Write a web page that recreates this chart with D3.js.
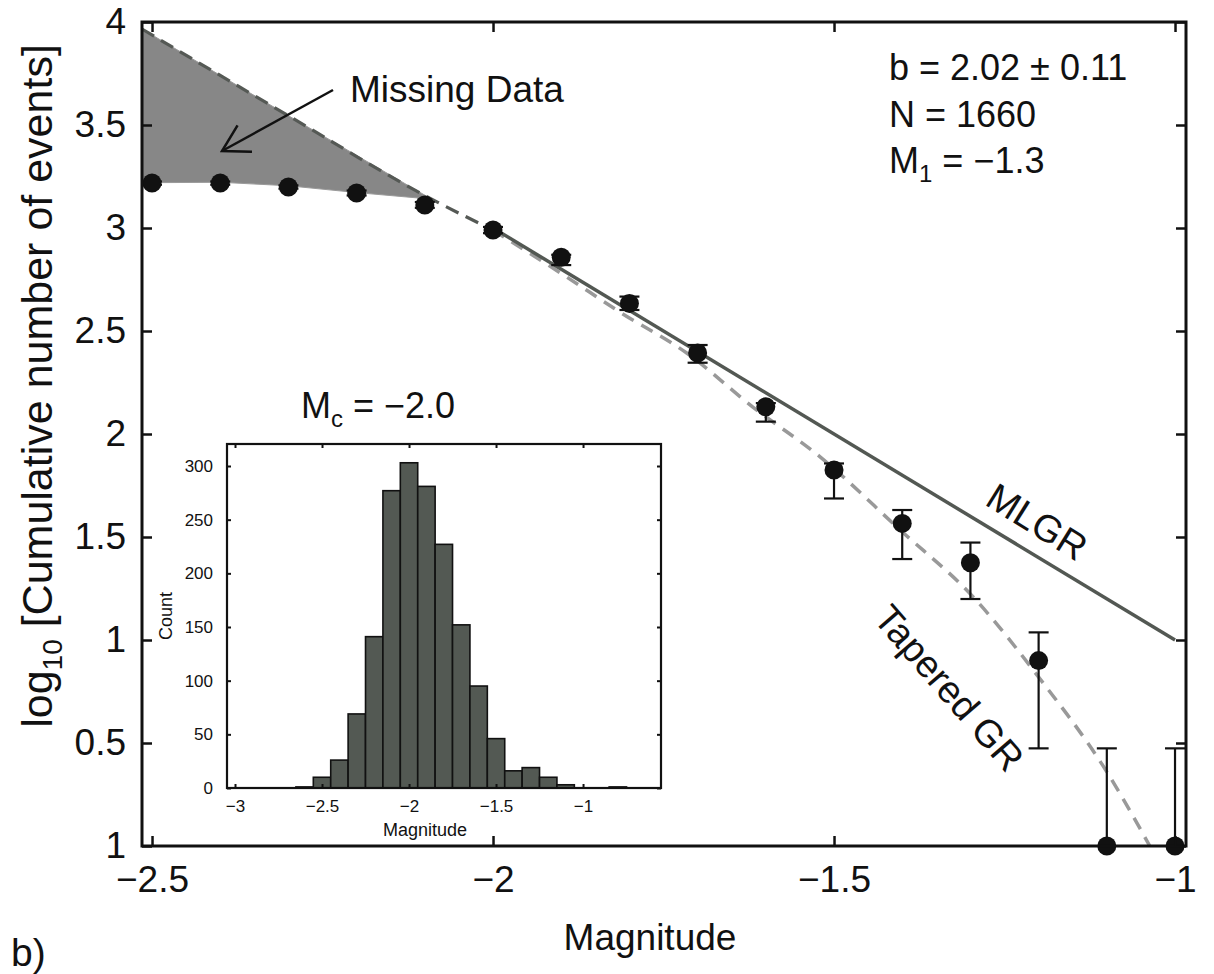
<!DOCTYPE html>
<html><head><meta charset="utf-8">
<script src="https://cdn.jsdelivr.net/npm/d3@7"></script>
<style>
body{margin:0;background:#fff}
svg{display:block}
text{font-family:"Liberation Sans",Arial,Helvetica,sans-serif;fill:#111}
</style>
</head><body>
<svg id="chart" width="1214" height="974"></svg>
<script>
// ---------- data ----------
const magnitudes = [-2.5,-2.4,-2.3,-2.2,-2.1,-2.0,-1.9,-1.8,-1.7,-1.6,-1.5,-1.4,-1.3,-1.2,-1.1,-1.0];
const logCounts  = [3.218,3.218,3.199,3.170,3.112,2.99,2.858,2.634,2.393,2.132,1.825,1.566,1.375,0.900,0,0];
const errLow     = [3.210,3.210,3.191,3.158,3.098,2.975,2.82,2.602,2.346,2.06,1.687,1.393,1.199,0.474,0,0];
const errHigh    = [3.226,3.226,3.207,3.182,3.126,3.005,2.87,2.667,2.432,2.15,1.857,1.631,1.473,1.037,0.474,0.474];

const mlgrM = [-2.0,-1.0];
const mlgrV = [3.0,1.0];

const taperedM = [-2.0,-1.892,-1.814,-1.716,-1.619,-1.52,-1.403,-1.296,-1.2,-1.1,-1.037];
const taperedV = [2.99,2.762,2.592,2.393,2.131,1.888,1.534,1.209,0.82,0.36,0.0];

const extrapM = [-2.5147,-2.3,-2.09,-2.0];
const extrapV = [3.966,3.545,3.14,2.99];

const missingLowerM = [-2.5147,-2.5,-2.4,-2.3,-2.2,-2.09];
const missingLowerV = [3.22,3.22,3.222,3.205,3.172,3.14];

const xTicks = [-2.5,-2,-1.5,-1];
const yTicks = [0,0.5,1,1.5,2,2.5,3,3.5,4];
const yTickLabels = ["1","0.5","1","1.5","2","2.5","3","3.5","4"];

const histCenters = [-2.6,-2.5,-2.4,-2.3,-2.2,-2.1,-2.0,-1.9,-1.8,-1.7,-1.6,-1.5,-1.4,-1.3,-1.2,-1.1,-1.0,-0.9,-0.8];
const histCounts  = [1,10,26,69,141,277,303,281,227,152,95,46,16,19,10,3,0,0,1];
const histBinWidth = 0.1;
const insetXTicks = [-3,-2.5,-2,-1.5,-1];
const insetYTicks = [0,50,100,150,200,250,300];

// ---------- setup ----------
const svg = d3.select("#chart");
const fmt = d3.format("~g");
const FONT = 37;

const x = d3.scaleLinear().domain([-2.5147,-0.9839]).range([142,1186]);
const y = d3.scaleLinear().domain([0,4]).range([846,22]);

svg.append("defs").append("clipPath").attr("id","plotclip")
  .append("rect").attr("x",x.range()[0]).attr("y",y.range()[1])
  .attr("width",x.range()[1]-x.range()[0]).attr("height",y.range()[0]-y.range()[1]);

// missing data shading
const upper = extrapM.map((m,i)=>[m,extrapV[i]]).filter(d=>d[0]<=-2.09);
const lower = missingLowerM.map((m,i)=>[m,missingLowerV[i]]);
const shadePts = upper.concat(lower.slice().reverse());
svg.append("path")
  .attr("d", d3.line().x(d=>x(d[0])).y(d=>y(d[1])).curve(d3.curveLinearClosed)(shadePts))
  .attr("fill","#878787").attr("stroke","#9a9a9a").attr("stroke-width",1);

const g = svg.append("g").attr("clip-path","url(#plotclip)");

// extrapolated (dark dashed)
g.append("path")
  .attr("d", d3.line().x(d=>x(d[0])).y(d=>y(d[1])).curve(d3.curveMonotoneX)(extrapM.map((m,i)=>[m,extrapV[i]])))
  .attr("fill","none").attr("stroke","#555955").attr("stroke-width",3.2)
  .attr("stroke-dasharray","14,8");

// tapered GR (light dashed)
g.append("path")
  .attr("d", d3.line().x(d=>x(d[0])).y(d=>y(d[1])).curve(d3.curveMonotoneX)(taperedM.map((m,i)=>[m,taperedV[i]])))
  .attr("fill","none").attr("stroke","#999").attr("stroke-width",3.5)
  .attr("stroke-dasharray","13,9");

// MLGR solid
g.append("path")
  .attr("d", d3.line().x(d=>x(d[0])).y(d=>y(d[1]))(mlgrM.map((m,i)=>[m,mlgrV[i]])))
  .attr("fill","none").attr("stroke","#535853").attr("stroke-width",3.5);

// error bars
const pts = magnitudes.map((m,i)=>({m,v:logCounts[i],lo:errLow[i],hi:errHigh[i]}));
const eb = svg.append("g").attr("stroke","#111").attr("stroke-width",2.2);
pts.forEach(d=>{
  eb.append("line").attr("x1",x(d.m)).attr("x2",x(d.m)).attr("y1",y(d.lo)).attr("y2",y(d.hi));
  eb.append("line").attr("x1",x(d.m)-10).attr("x2",x(d.m)+10).attr("y1",y(d.hi)).attr("y2",y(d.hi));
  if (d.lo>0) eb.append("line").attr("x1",x(d.m)-10).attr("x2",x(d.m)+10).attr("y1",y(d.lo)).attr("y2",y(d.lo));
});
svg.append("g").selectAll("circle").data(pts).join("circle")
  .attr("cx",d=>x(d.m)).attr("cy",d=>y(d.v)).attr("r",9.5).attr("fill","#111");

// frame and axes
svg.append("rect").attr("x",x.range()[0]).attr("y",y.range()[1])
  .attr("width",x.range()[1]-x.range()[0]).attr("height",y.range()[0]-y.range()[1])
  .attr("fill","none").attr("stroke","#111").attr("stroke-width",3);

function styleAxis(sel, fs){
  sel.select(".domain").remove();
  sel.selectAll(".tick line").attr("stroke","#111").attr("stroke-width",2.5);
  sel.selectAll(".tick text").style("font-size",fs+"px").attr("fill","#111")
    .style("font-family",'"Liberation Sans",Arial,sans-serif');
}
const xAxisB = svg.append("g").attr("transform",`translate(0,${y(0)})`)
  .call(d3.axisBottom(x).tickValues(xTicks).tickFormat(fmt).tickSizeInner(-10).tickSizeOuter(0).tickPadding(20));
styleAxis(xAxisB, FONT);
const xAxisT = svg.append("g").attr("transform",`translate(0,${y(4)})`)
  .call(d3.axisTop(x).tickValues(xTicks).tickFormat("").tickSizeInner(-10).tickSizeOuter(0));
styleAxis(xAxisT, FONT);
const yAxisL = svg.append("g").attr("transform",`translate(${x.range()[0]},0)`)
  .call(d3.axisLeft(y).tickValues(yTicks).tickFormat((d,i)=>yTickLabels[i]).tickSizeInner(-10).tickSizeOuter(0).tickPadding(16));
styleAxis(yAxisL, FONT);
const yAxisR = svg.append("g").attr("transform",`translate(${x.range()[1]},0)`)
  .call(d3.axisRight(y).tickValues(yTicks).tickFormat("").tickSizeInner(-10).tickSizeOuter(0));
styleAxis(yAxisR, FONT);

// axis titles
svg.append("text").attr("x",650).attr("y",950).attr("text-anchor","middle")
  .style("font-size",FONT+"px").text("Magnitude");
const yl = svg.append("text").attr("transform","translate(52,386) rotate(-90)")
  .attr("text-anchor","middle").style("font-size","43px");
yl.append("tspan").text("log");
yl.append("tspan").attr("dy",10).style("font-size","28px").text("10");
yl.append("tspan").attr("dy",-10).text(" [Cumulative number of events]");

svg.append("text").attr("x",11).attr("y",966).style("font-size","39px").text("b)");

// stats
const stats = svg.append("g").style("font-size","36px");
stats.append("text").attr("x",889).attr("y",80).text("b = 2.02 \u00b1 0.11");
stats.append("text").attr("x",889).attr("y",127).text("N = 1660");
const m1 = stats.append("text").attr("x",889).attr("y",173);
m1.append("tspan").text("M");
m1.append("tspan").attr("dy",9).style("font-size","24px").text("1");
m1.append("tspan").attr("dy",-9).text(" = \u22121.3");

// missing data annotation
svg.append("text").attr("x",350).attr("y",102).style("font-size",FONT+"px").text("Missing Data");
const aStart = [x.invert(333), y.invert(90)];
const aEnd = [x.invert(222), y.invert(151)];
const ax1=x(aStart[0]), ay1=y(aStart[1]), ax2=x(aEnd[0]), ay2=y(aEnd[1]);
const ang = Math.atan2(ay1-ay2, ax1-ax2);
const hl = 30, ha = Math.PI/6;
const arrow = svg.append("g").attr("stroke","#111").attr("stroke-width",2.5).attr("fill","none");
arrow.append("line").attr("x1",ax1).attr("y1",ay1).attr("x2",ax2).attr("y2",ay2);
arrow.append("polyline").attr("points",[
  [ax2+hl*Math.cos(ang-ha), ay2+hl*Math.sin(ang-ha)],
  [ax2,ay2],
  [ax2+hl*Math.cos(ang+ha), ay2+hl*Math.sin(ang+ha)]].map(p=>p.join(",")).join(" "));

// line labels
svg.append("text").attr("transform",`translate(${x(-1.2024)},${y(1.573)}) rotate(32)`)
  .attr("text-anchor","middle").attr("dominant-baseline","central")
  .style("font-size","38px").text("MLGR");
svg.append("text").attr("transform",`translate(${x(-1.3314)},${y(0.767)}) rotate(49)`)
  .attr("text-anchor","middle").attr("dominant-baseline","central")
  .style("font-size","38px").text("Tapered GR");

// ---------- inset histogram ----------
const ix = d3.scaleLinear().domain([-3.046,-0.552]).range([227,661]);
const iy = d3.scaleLinear().domain([0,320.5]).range([788,444]);
const inset = svg.append("g");
inset.append("rect").attr("x",227).attr("y",444).attr("width",434).attr("height",344).attr("fill","#fff");
inset.selectAll("rect.bar").data(histCenters.map((c,i)=>({c,n:histCounts[i]}))).join("rect")
  .attr("class","bar")
  .attr("x",d=>ix(d.c-histBinWidth/2)).attr("width",d=>ix(d.c+histBinWidth/2)-ix(d.c-histBinWidth/2))
  .attr("y",d=>iy(d.n)).attr("height",d=>iy(0)-iy(d.n))
  .attr("fill","#535953").attr("stroke","#111").attr("stroke-width",1.6);
inset.append("rect").attr("x",227).attr("y",444).attr("width",434).attr("height",344)
  .attr("fill","none").attr("stroke","#111").attr("stroke-width",2.2);
function styleInset(sel){
  sel.select(".domain").remove();
  sel.selectAll(".tick line").attr("stroke","#111").attr("stroke-width",2);
  sel.selectAll(".tick text").style("font-size","17px").attr("fill","#222")
    .style("font-family",'"Liberation Sans",Arial,sans-serif');
}
const ifmt = d3.format("~g");
styleInset(inset.append("g").attr("transform","translate(0,788)")
  .call(d3.axisBottom(ix).tickValues(insetXTicks).tickFormat(ifmt).tickSizeInner(-4).tickSizeOuter(0).tickPadding(12)));
styleInset(inset.append("g").attr("transform","translate(0,444)")
  .call(d3.axisTop(ix).tickValues(insetXTicks).tickFormat("").tickSizeInner(-4).tickSizeOuter(0)));
styleInset(inset.append("g").attr("transform","translate(227,0)")
  .call(d3.axisLeft(iy).tickValues(insetYTicks).tickFormat(ifmt).tickSizeInner(-4).tickSizeOuter(0).tickPadding(14)));
styleInset(inset.append("g").attr("transform","translate(661,0)")
  .call(d3.axisRight(iy).tickValues(insetYTicks).tickFormat("").tickSizeInner(-4).tickSizeOuter(0)));
inset.append("text").attr("x",425).attr("y",836).attr("text-anchor","middle")
  .style("font-size","18px").attr("fill","#222").text("Magnitude");
inset.append("text").attr("transform","translate(172,616) rotate(-90)").attr("text-anchor","middle")
  .style("font-size","18px").attr("fill","#222").text("Count");
const mc = inset.append("text").attr("x",378).attr("y",418).attr("text-anchor","middle").style("font-size","36px");
mc.append("tspan").text("M");
mc.append("tspan").attr("dy",9).style("font-size","24px").text("c");
mc.append("tspan").attr("dy",-9).text(" = \u22122.0");
</script>
</body></html>
